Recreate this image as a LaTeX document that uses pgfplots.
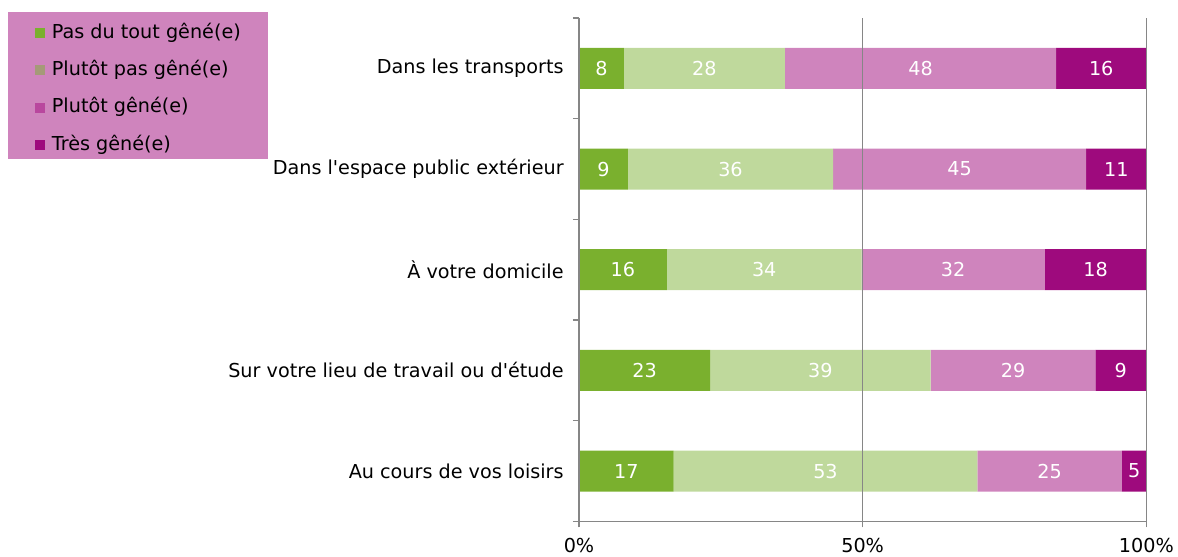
\documentclass[border=0pt]{standalone}
\usepackage{pgfplots}
\pgfplotsset{compat=1.18}
\usepackage{pgfplotstable}
\usepackage{fontspec}
\setmainfont{DejaVu Sans}
\definecolor{cA}{HTML}{7AB02E}
\definecolor{cB}{HTML}{BFD99C}
\definecolor{cC}{HTML}{CF84BD}
\definecolor{cD}{HTML}{9E0A7D}
\definecolor{lB}{HTML}{A59A78}
\definecolor{lC}{HTML}{B9479E}
\definecolor{gridc}{HTML}{868686}

\pgfplotstableread{
cat a b c d la lb lc ld
1 7.9 28.4 47.8 15.9 8 28 48 16
2 8.6 36.2 44.6 10.6 9 36 45 11
3 15.5 34.3 32.3 17.9 16 34 32 18
4 23.1 38.9 29.0 9.0 23 39 29 9
5 16.7 53.5 25.5 4.3 17 53 25 5
}\data

\newcommand{\fs}{\fontsize{14.4}{16}\selectfont}

\begin{document}
\begin{tikzpicture}
\begin{axis}[
  at={(0pt,0pt)}, anchor=south west,
  scale only axis, width=425.5pt, height=377.6pt,
  xbar stacked, bar width=30.75pt,
  xmin=0, xmax=100, ymin=0.5, ymax=5.5, y dir=reverse,
  axis x line=bottom, axis y line=left,
  axis line style={gridc, line width=1pt, -},
  axis on top,
  xmajorgrids, grid style={gridc, line width=1pt},
  xtick={0,50,100}, xticklabels={0\%,50\%,100\%},
  ytick={1,2,3,4,5},
  yticklabels={Dans les transports, Dans l\textquotesingle espace public extérieur, À votre domicile, Sur votre lieu de travail ou d\textquotesingle étude, Au cours de vos loisirs},
  minor ytick={0.5,1.5,2.5,3.5,4.5,5.5},
  major y tick style={draw=none},
  tick align=outside,
  major tick length=4.5pt, minor tick length=4.5pt,
  tick style={gridc, line width=1pt},
  ticklabel style={font=\fs, text=black},
  yticklabel style={xshift=-3.5pt},
  xticklabel style={yshift=-4.3pt},
  nodes near coords, point meta=explicit symbolic,
  every node near coord/.append style={font=\fs, text=white, anchor=center},
  legend style={at={(axis description cs:-1.00705,1.0119)}, anchor=north west,
    fill=cC, draw=none, font=\fs, inner xsep=20.25pt, inner ysep=7pt,
    row sep=15pt, column sep=5.25pt,
    nodes={inner sep=0pt, text height=10pt, text depth=3pt},
    cells={anchor=base west}},
]
\addplot[fill=cA, draw=none,
  legend image code/.code={\fill[cA] (0pt,0pt) rectangle (7.5pt,7.5pt);}]
  table[x=a, y=cat, meta=la]{\data};
\addlegendentry[text height=12.4pt]{Pas du tout gêné(e)}
\addplot[fill=cB, draw=none,
  legend image code/.code={\fill[lB] (0pt,0pt) rectangle (7.5pt,7.5pt);}]
  table[x=b, y=cat, meta=lb]{\data};
\addlegendentry{Plutôt pas gêné(e)}
\addplot[fill=cC, draw=none,
  legend image code/.code={\fill[lC] (0pt,0pt) rectangle (7.5pt,7.5pt);}]
  table[x=c, y=cat, meta=lc]{\data};
\addlegendentry{Plutôt gêné(e)}
\addplot[fill=cD, draw=none,
  legend image code/.code={\fill[cD] (0pt,0pt) rectangle (7.5pt,7.5pt);}]
  table[x=d, y=cat, meta=ld]{\data};
\addlegendentry[text depth=0pt]{Très gêné(e)}
\end{axis}
\pgfresetboundingbox
\path (-434.25pt,-26.6pt) rectangle (449.25pt,391.1pt);
\end{tikzpicture}
\end{document}
